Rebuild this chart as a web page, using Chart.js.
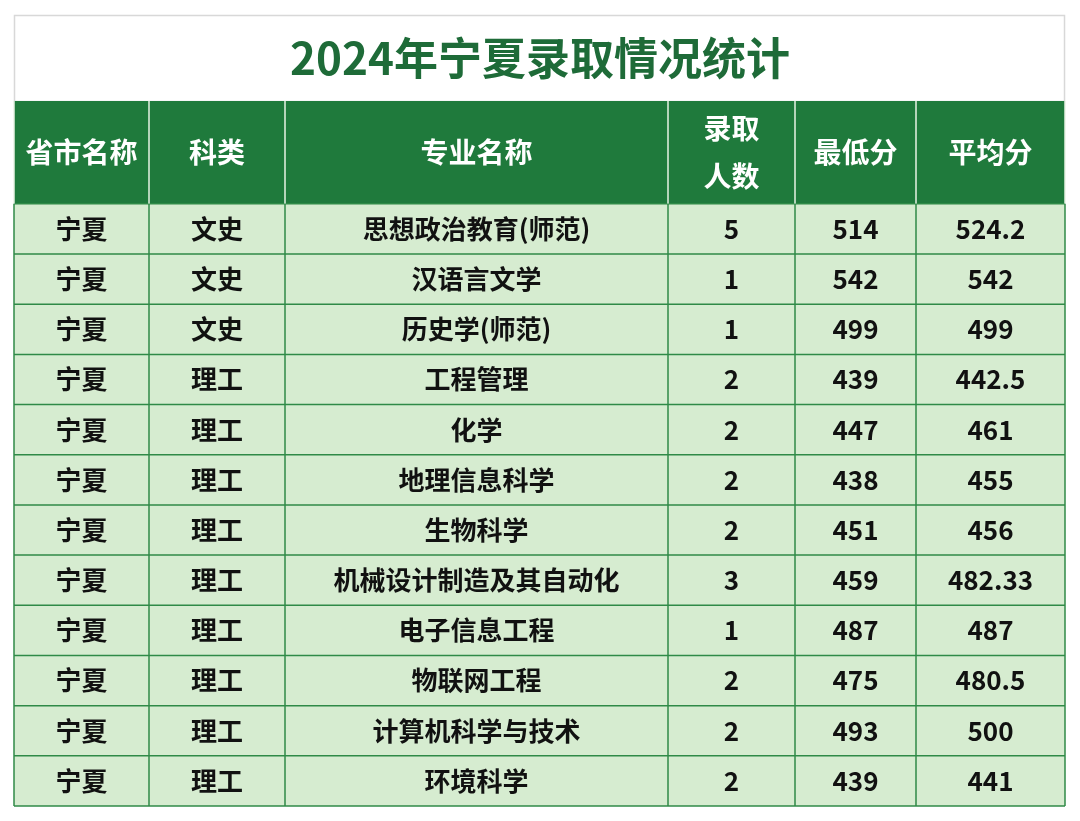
<!DOCTYPE html>
<html><head><meta charset="utf-8">
<script src="https://cdn.jsdelivr.net/npm/chart.js@4/dist/chart.umd.min.js"></script>
<style>html,body{margin:0;padding:0;background:#fff}</style>
</head><body>
<canvas id="c" width="1080" height="821"></canvas>
<script>
const title = "2024年宁夏录取情况统计";
const headers = ["省市名称","科类","专业名称","录取\n人数","最低分","平均分"];
const province = Array(12).fill("宁夏");
const category = ["文史","文史","文史","理工","理工","理工","理工","理工","理工","理工","理工","理工"];
const majors = ["思想政治教育(师范)","汉语言文学","历史学(师范)","工程管理","化学","地理信息科学","生物科学","机械设计制造及其自动化","电子信息工程","物联网工程","计算机科学与技术","环境科学"];
const admitted = [5,1,1,2,2,2,2,3,1,2,2,2];
const minScore = [514,542,499,439,447,438,451,459,487,475,493,439];
const avgScore = ["524.2","542","499","442.5","461","455","456","482.33","487","480.5","500","441"];
const columns = [province, category, majors, admitted, minScore, avgScore];
const colEdges = [0,135,271,654,781,902,1051];
const FONT = '"Noto Sans CJK SC", sans-serif';

const datasets = columns.map((col, ci) => ({
  data: col.map((v, ri) => ({x: (colEdges[ci]+colEdges[ci+1])/2, y: ri+0.5, label: String(v)})),
  pointRadius: 0
}));

const tablePlugin = {
  id: 'table',
  beforeDatasetsDraw(chart) {
    const ctx = chart.ctx, xs = chart.scales.x, ys = chart.scales.y;
    // title box
    ctx.save();
    ctx.fillStyle = '#fff';
    ctx.strokeStyle = '#d8d8d8'; ctx.lineWidth = 1.5;
    ctx.strokeRect(14.5, 15.5, 1050, 86);
    ctx.fillStyle = '#1e6b38';
    ctx.font = 'bold 44px ' + FONT;
    ctx.textAlign = 'center'; ctx.textBaseline = 'middle';
    ctx.fillText(title, 540, 58);
    // header
    const yH0 = ys.getPixelForValue(-2.05), yH1 = ys.getPixelForValue(0);
    const x0 = xs.getPixelForValue(0), x1 = xs.getPixelForValue(1051);
    ctx.fillStyle = '#1f7a3c';
    ctx.fillRect(x0, yH0, x1-x0, yH1-yH0);
    // body
    const yB1 = ys.getPixelForValue(12);
    ctx.fillStyle = '#d6ecd0';
    ctx.fillRect(x0, yH1, x1-x0, yB1-yH1);
    // grid
    ctx.strokeStyle = '#2f8a47'; ctx.lineWidth = 1.5;
    for (let r = 0; r <= 12; r++) {
      const y = ys.getPixelForValue(r);
      ctx.beginPath(); ctx.moveTo(x0, y); ctx.lineTo(x1, y); ctx.stroke();
    }
    colEdges.forEach((e, i) => {
      const x = xs.getPixelForValue(e);
      ctx.strokeStyle = '#e8f3e4';
      ctx.beginPath(); ctx.moveTo(x, yH0); ctx.lineTo(x, yH1); ctx.stroke();
      ctx.strokeStyle = '#2f8a47';
      ctx.beginPath(); ctx.moveTo(x, yH1); ctx.lineTo(x, yB1); ctx.stroke();
    });
    // header text
    ctx.fillStyle = '#fff';
    ctx.font = 'bold 28px ' + FONT;
    headers.forEach((h, i) => {
      const cx = xs.getPixelForValue((colEdges[i]+colEdges[i+1])/2);
      const lines = h.split('\n');
      const cy = (yH0+yH1)/2;
      lines.forEach((l, li) => ctx.fillText(l, cx, cy + (li - (lines.length-1)/2)*48));
    });
    // body text
    ctx.fillStyle = '#111';
    ctx.font = 'bold 26px ' + FONT;
    chart.data.datasets.forEach(ds => ds.data.forEach(p => {
      ctx.fillText(p.label, xs.getPixelForValue(p.x), ys.getPixelForValue(p.y));
    }));
    ctx.restore();
  }
};

new Chart(document.getElementById('c'), {
  type: 'scatter',
  data: {datasets},
  options: {
    responsive: false, animation: false, devicePixelRatio: 1,
    layout: {padding: {left: 14, right: 15, top: 101, bottom: 15}},
    plugins: {legend: {display: false}, tooltip: {enabled: false}},
    scales: {
      x: {type: 'linear', min: 0, max: 1051, display: false},
      y: {type: 'linear', min: -2.05, max: 12, reverse: true, display: false}
    }
  },
  plugins: [tablePlugin]
});
</script>
</body></html>
